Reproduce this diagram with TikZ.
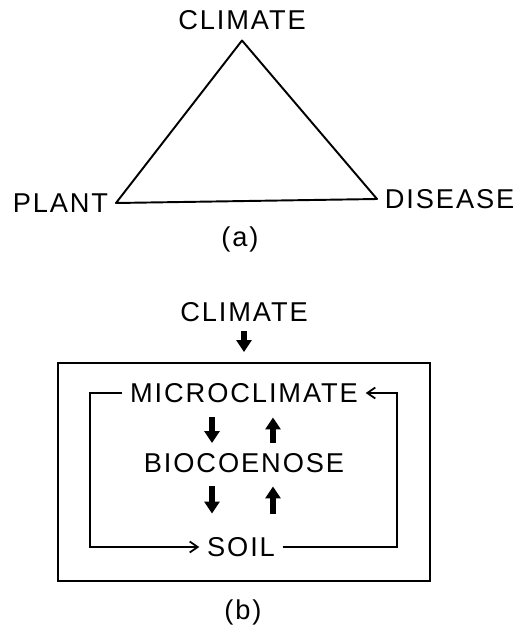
\documentclass[tikz,border=0pt]{standalone}
\usepackage{fontspec}
\setmainfont{Liberation Sans}[LetterSpace=7]
\usetikzlibrary{arrows.meta}

\begin{document}
\begin{tikzpicture}[
    x=0.02cm, y=-0.02cm,
    word/.style={inner sep=0.15cm, font=\fontsize{15.5}{18}\selectfont},
    caption/.style={inner sep=0pt, font=\fontsize{15.5}{18}\selectfont},
    frame/.style={draw, line width=1.1pt, minimum width=7.44cm, minimum height=4.36cm},
    fat/.style={-{Triangle[length=0.24cm,width=0.3cm]}, line width=0.11cm},
    flow/.style={-{Straight Barb[length=0.16cm,width=0.22cm]}, line width=1pt}
]
    \useasboundingbox (0,0) rectangle (523,632);

    % (a) the disease triangle
    \node[word] (climateA) at (242,20) {CLIMATE};
    \node[word, anchor=east] (plant) at (116,203) {PLANT};
    \node[word, anchor=west] (disease) at (377,199) {DISEASE};
    \node[caption] (capA) at (240,239) {(a)};
    \draw[line width=1.1pt, line join=round] ([yshift=-0.06cm]climateA.south) -- (plant.east) -- (disease.west) -- cycle;

    % (b) the ecosystem box
    \node[word] (climateB) at (244,312) {CLIMATE};
    \node[frame] (box) at (244,472) {};
    \node[word] (micro) at (244,393) {MICROCLIMATE};
    \node[word] (bio) at (244,463) {BIOCOENOSE};
    \node[word] (soil) at (241,547) {SOIL};
    \node[caption] (capB) at (243,612) {(b)};
    \coordinate (westrail) at (90,0);
    \coordinate (eastrail) at (397,0);

    \draw[fat, shorten <=0.04cm, shorten >=0.2cm] (climateB.south) -- (box.north -| climateB.south);
    \draw[fat, shorten <=0.14cm, shorten >=0.05cm] ([xshift=-0.64cm]micro.south) -- ([xshift=-0.64cm]micro.south |- bio.north);
    \draw[fat, shorten <=0.05cm, shorten >=0.14cm] ([xshift=0.58cm]micro.south |- bio.north) -- ([xshift=0.58cm]micro.south);
    \draw[fat, shorten <=0.12cm, shorten >=0.32cm] ([xshift=-0.64cm]bio.south) -- ([xshift=-0.64cm]bio.south |- soil.north);
    \draw[fat, shorten <=0.32cm, shorten >=0.12cm] ([xshift=0.58cm]bio.south |- soil.north) -- ([xshift=0.58cm]bio.south);

    \draw[flow] (micro.west) -- (micro.west -| westrail) |- (soil.west);
    \draw[flow] (soil.east) -- (soil.east -| eastrail) |- (micro.east);
\end{tikzpicture}
\end{document}
